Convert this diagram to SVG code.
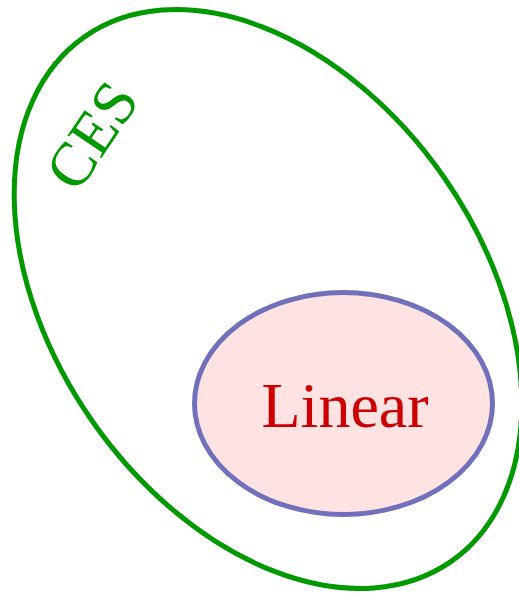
<svg xmlns="http://www.w3.org/2000/svg" width="519" height="594" viewBox="0 0 519 594">
<style>
.ces{fill:none;stroke:#009900;stroke-width:5}
.lin{fill:#ffe3e3;stroke:#7070bb;stroke-width:5}
.t{font-family:"Liberation Serif","Times New Roman",serif;text-anchor:middle}
</style>
<rect width="519" height="594" fill="#ffffff"/>
<g id="ces">
<ellipse class="ces" cx="268" cy="299" rx="320" ry="214" transform="rotate(55 268 299)"/>
<text class="t" x="0" y="0" font-size="62" fill="#009900" transform="translate(109 147) rotate(-56)">CES</text>
</g>
<g id="linear">
<ellipse class="lin" cx="343.5" cy="403.5" rx="149" ry="111"/>
<text class="t" x="345" y="427" font-size="64" fill="#cc0000">Linear</text>
</g>
<g id="connectors"/>
</svg>
